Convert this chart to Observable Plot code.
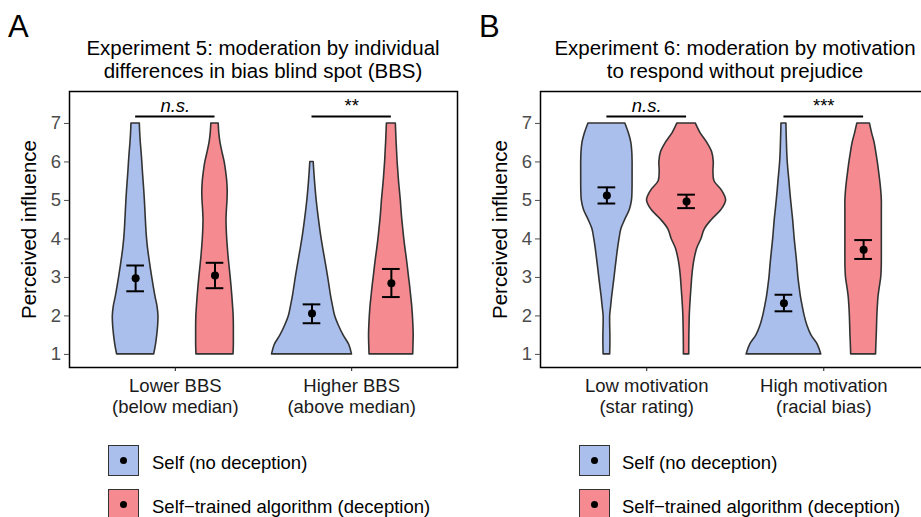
<!DOCTYPE html>
<html><head><meta charset="utf-8">
<script src="https://cdn.jsdelivr.net/npm/d3@7"></script>
<script src="https://cdn.jsdelivr.net/npm/@observablehq/plot@0.6"></script>
<style>
html,body{margin:0;padding:0;background:#fff;overflow:hidden;}
#root{position:relative;width:921px;height:517px;overflow:hidden;font-family:"Liberation Sans",Arial,Helvetica,sans-serif;color:#000;background:#fff;}
.tag{font-size:31px;line-height:31px;}
.title{font-size:20.5px;line-height:23px;text-align:center;white-space:nowrap;}
.key{position:absolute;width:31px;height:31px;border:1.5px solid #333;box-sizing:border-box;}
.key .dot{position:absolute;left:50%;top:50%;width:7px;height:7px;margin:-3.5px 0 0 -3.5px;border-radius:50%;background:#000;}
.ltext{position:absolute;font-size:18.5px;line-height:31px;white-space:nowrap;}
</style></head>
<body><div id="root"></div>
<script>
// ---- data ----
const levels = [1,1.25,1.5,1.75,2,2.25,2.5,2.75,3,3.25,3.5,3.75,4,4.25,4.5,4.75,5,5.25,5.5,5.75,6,6.25,6.5,6.75,7];
const conditions = ["self", "algo"];
const conditionLabels = ["Self (no deception)", "Self\u2212trained algorithm (deception)"];

// Panel A
const tagA = "A";
const titleA = ["Experiment 5: moderation by individual", "differences in bias blind spot (BBS)"];
const categoriesA = ["Lower BBS\n(below median)", "Higher BBS\n(above median)"];
const densA_self_low  = [18.7,20.5,21.8,22.7,23,22,20,18.3,16.7,15.2,13.8,12.5,11.5,10.8,10.3,9.8,9.3,8.7,8,7.3,6.7,6,5.2,4.6,4.2];
const densA_algo_low  = [18.7,19,19,19,18.8,18.2,17.5,16.7,15.8,14.8,13.8,13,12.3,11.8,11.6,12,12.6,12.8,12.3,11.2,9.7,7.5,5.5,4.3,3.7];
const densA_self_high = [40.3,37.5,31.7,27,23.3,21.2,19.3,17.8,16.3,14.7,13,11.3,9.7,8.3,7,5.8,4.7,3.8,3,2.3,1.7,null,null,null,null];
const densA_algo_high = [22,22.3,22.5,22.2,21.7,21,20,19,17.8,16.7,15.5,14.2,13,12,11,10.2,9.5,8.6,7.7,7,6.3,5.8,5.3,4.9,4.5];
// order: low-self, low-algo, high-self, high-algo
const meanA = [2.98, 3.05, 2.06, 2.85];
const lowA  = [2.64, 2.72, 1.81, 2.49];
const highA = [3.31, 3.38, 2.30, 3.22];
const sigA = ["n.s.", "**"];

// Panel B
const tagB = "B";
const titleB = ["Experiment 6: moderation by motivation", "to respond without prejudice"];
const categoriesB = ["Low motivation\n(star rating)", "High motivation\n(racial bias)"];
const densB_self_low  = [3.3,3.5,3.5,3.3,3.3,4.3,5.3,6.5,7.7,8.8,10,11.2,12.7,14.5,18.5,23,25.2,25.7,25.8,25.8,25.8,25.5,24.5,22,18.5];
const densB_algo_low  = [2.7,2.7,2.8,3,3.2,3.7,4.3,5,5.7,6.7,8.3,10.7,15,18.3,25.7,35,39.7,35.7,28,27,27.3,25.7,20.7,14,9.2];
const densB_self_high = [37.5,34,27.5,23.5,20.8,18.8,17,15.7,14.5,13.7,12.8,11.8,10.8,10,9.2,8.2,7.2,6.3,5.5,4.6,3.8,3.3,3,2.7,2.5];
const densB_algo_high = [12.5,12.8,13.2,13.5,13.8,14.3,15,16.3,17.7,18.2,18.3,18.3,18.3,18.3,18.3,18.3,18.3,17.7,16.7,15.5,14.2,12.7,11,8.5,6.3];
const meanB = [5.13, 4.97, 2.33, 3.72];
const lowB  = [4.92, 4.80, 2.12, 3.48];
const highB = [5.34, 5.15, 2.55, 3.97];
const sigB = ["n.s.", "***"];

const sigBarLevel = 7.18;
const sigTextLevel = 7.46;
const yTicks = [1,2,3,4,5,6,7];
const yLabel = "Perceived influence";

// ---- style ----
const BLUE = "#abbfed";
const RED = "#f58b90";
const FONT = "'Liberation Sans', Arial, Helvetica, sans-serif";
const DODGE = 0.225;        // half of dodge width 0.45
const K = DODGE / 40;       // density unit -> x units

function makePanel(cfg) {
  const rows = [];
  cfg.dens.forEach((arr, i) => {
    const cat = i < 2 ? 1 : 2;
    const cond = conditions[i % 2];
    const pos = cat + (cond === "self" ? -DODGE : DODGE);
    levels.forEach((lv, j) => rows.push({id: i, cat, cond, pos, level: lv, w: arr[j]}));
  });
  const stats = cfg.mean.map((m, i) => {
    const cat = i < 2 ? 1 : 2;
    const cond = conditions[i % 2];
    return {cat, cond, pos: cat + (cond === "self" ? -DODGE : DODGE), mean: m, lo: cfg.low[i], hi: cfg.high[i]};
  });
  const sig = cfg.sig.map((s, i) => ({cat: i + 1, label: s}));
  return Plot.plot({
    width: cfg.width, height: 430,
    marginLeft: cfg.marginLeft, marginRight: cfg.marginRight, marginTop: 91, marginBottom: 63,
    x: {domain: [0.4, 2.6]},
    y: {domain: [0.66, 7.83]},
    color: {domain: conditions, range: [BLUE, RED]},
    style: {fontFamily: FONT, fontSize: "18.5px", background: "transparent", maxWidth: "none", overflow: "visible"},
    marks: [
      Plot.areaX(rows, {
        y: "level",
        x1: d => d.w == null ? NaN : d.pos - d.w * K,
        x2: d => d.w == null ? NaN : d.pos + d.w * K,
        z: "id", fill: "cond", stroke: "#333", strokeWidth: 1.6, curve: "catmull-rom"
      }),
      Plot.ruleX(stats, {x: "pos", y1: "lo", y2: "hi", stroke: "#000", strokeWidth: 2}),
      Plot.ruleY(stats, {y: "lo", x1: d => d.pos - 0.05, x2: d => d.pos + 0.05, stroke: "#000", strokeWidth: 2}),
      Plot.ruleY(stats, {y: "hi", x1: d => d.pos - 0.05, x2: d => d.pos + 0.05, stroke: "#000", strokeWidth: 2}),
      Plot.dot(stats, {x: "pos", y: "mean", r: 4, fill: "#000", stroke: "none"}),
      Plot.ruleY(sig, {y: () => sigBarLevel, x1: d => d.cat - DODGE, x2: d => d.cat + DODGE, stroke: "#000", strokeWidth: 2}),
      Plot.text(sig.filter(d => d.label === "n.s."), {x: "cat", y: () => sigTextLevel, text: "label", fontSize: 18.5, fontStyle: "italic", fill: "#000"}),
      Plot.text(sig.filter(d => d.label !== "n.s."), {x: "cat", y: () => sigTextLevel, text: "label", fontSize: 18.5, fill: "#000"}),
      Plot.frame({stroke: "#000", strokeWidth: 1.5}),
      Plot.axisY({ticks: yTicks, tickSize: 5, tickPadding: 3.5, fontSize: 18.5, color: "#4d4d4d", label: null}),
      Plot.axisX({ticks: [1, 2], tickFormat: d => cfg.categories[d - 1], tickSize: 4, tickPadding: 6, fontSize: 18.5, lineHeight: 1.12, color: "#1a1a1a", label: null}),
      Plot.text([yLabel], {frameAnchor: "left", textAnchor: "middle", lineAnchor: "middle", rotate: -90, dx: -40, fontSize: 20.5, fill: "#000"})
    ]
  });
}

const root = document.getElementById("root");
function place(el, left, top, width) {
  el.style.position = "absolute";
  el.style.left = left + "px";
  el.style.top = top + "px";
  if (width != null) el.style.width = width + "px";
  root.appendChild(el);
  return el;
}

const panels = [
  {left: 0, width: 460, marginLeft: 69, marginRight: 3, tag: tagA, title: titleA, categories: categoriesA,
   dens: [densA_self_low, densA_algo_low, densA_self_high, densA_algo_high], mean: meanA, low: lowA, high: highA, sig: sigA,
   titleCenter: 263, keyLeft: 108, textLeft: 152, tagLeft: 8},
  {left: 460, width: 475, marginLeft: 80, marginRight: 5.5, tag: tagB, title: titleB, categories: categoriesB,
   dens: [densB_self_low, densB_algo_low, densB_self_high, densB_algo_high], mean: meanB, low: lowB, high: highB, sig: sigB,
   titleCenter: 735, keyLeft: 579, textLeft: 622, tagLeft: 479}
];

for (const p of panels) {
  const holder = document.createElement("div");
  holder.appendChild(makePanel(p));
  place(holder, p.left, 0, p.width);

  const tag = document.createElement("div");
  tag.className = "tag"; tag.textContent = p.tag;
  place(tag, p.tagLeft, 11);

  const t = document.createElement("div");
  t.className = "title";
  t.innerHTML = p.title.map(s => s.replace(/&/g, "&amp;").replace(/</g, "&lt;")).join("<br>");
  place(t, p.titleCenter - 230, 36, 460);

  conditions.forEach((c, i) => {
    const key = document.createElement("div");
    key.className = "key";
    key.style.background = c === "self" ? BLUE : RED;
    const dot = document.createElement("div"); dot.className = "dot"; key.appendChild(dot);
    place(key, p.keyLeft, 445 + i * 44.3);
    const lt = document.createElement("div");
    lt.className = "ltext"; lt.textContent = conditionLabels[i];
    place(lt, p.textLeft, 446.5 + i * 44.3);
  });
}
</script></body></html>
